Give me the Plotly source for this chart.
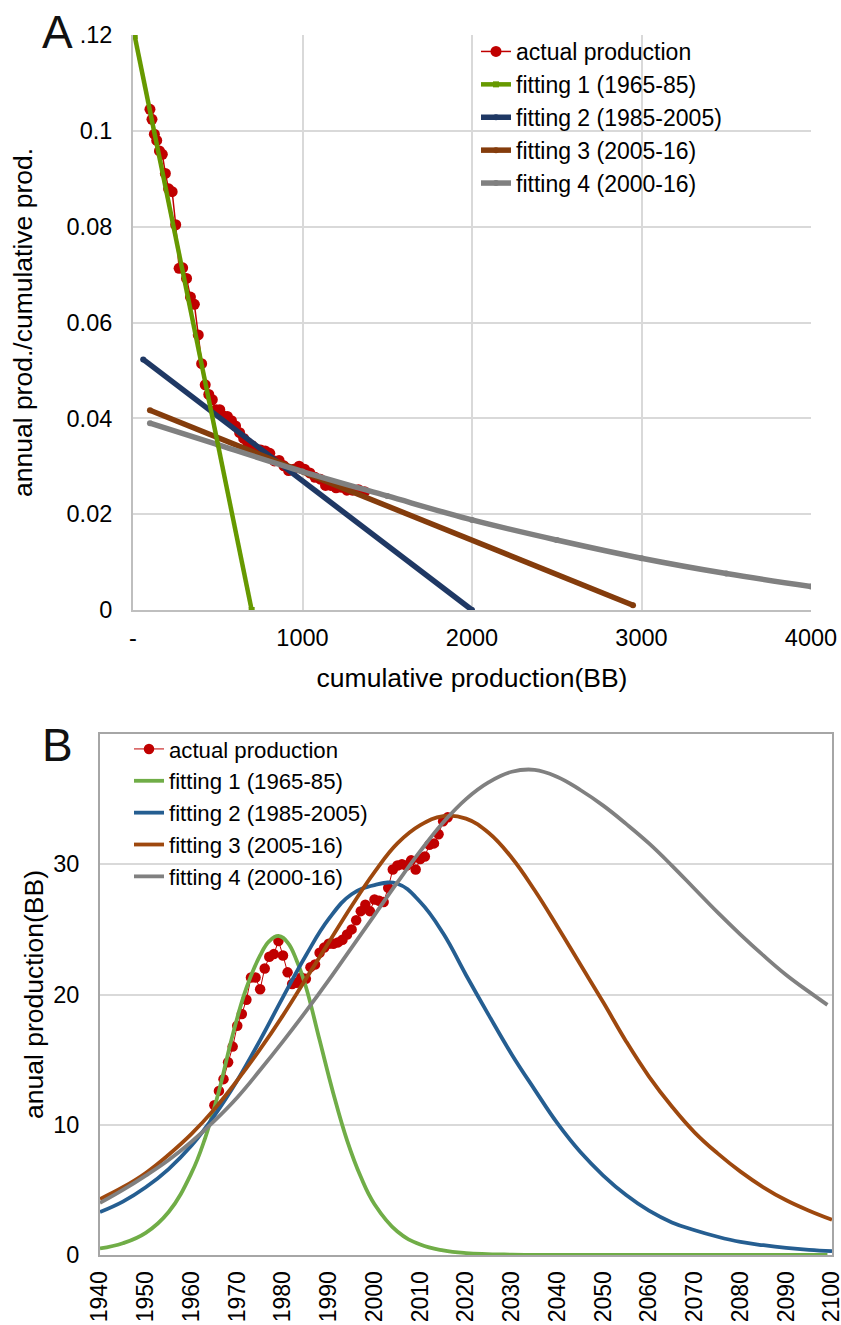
import plotly.graph_objects as go

W, H = 841, 1325
FONT = "Liberation Sans, Arial, sans-serif"

# ---------------- Panel A data (Hubbert linearization) ----------------
cum_prod = [100, 112, 126, 140, 156, 173, 191, 210, 231, 252, 272, 293, 316, 339, 362,
            385, 405, 426, 447, 468, 490, 512, 534, 557, 581, 605, 629, 653, 677, 702,
            727, 753, 780, 807, 834, 862, 890, 918, 948, 980, 1012, 1043, 1074, 1105,
            1136, 1167, 1198, 1230, 1262, 1295, 1330, 1366]
ratio = [0.1045, 0.1024, 0.0993, 0.0980, 0.0958, 0.0951, 0.0911, 0.0879, 0.0873, 0.0804,
         0.0713, 0.0714, 0.0692, 0.0653, 0.0638, 0.0574, 0.0514, 0.0470, 0.0450, 0.0439,
         0.0418, 0.0418, 0.0405, 0.0404, 0.0395, 0.0384, 0.0370, 0.0358, 0.0349, 0.0343,
         0.0336, 0.0334, 0.0332, 0.0327, 0.0311, 0.0312, 0.0301, 0.0291, 0.0294, 0.0300,
         0.0294, 0.0286, 0.0277, 0.0273, 0.0260, 0.0260, 0.0255, 0.0256, 0.0250, 0.0250,
         0.0251, 0.0247]

fitA1_x = [10, 700]
fitA1_y = [0.1198, 0.0]
fitA2_x = [60, 2000]
fitA2_y = [0.0523, 0.0]
fitA3_x = [100, 2950]
fitA3_y = [0.0417, 0.0010]
fitA4_x = [100, 500, 1000, 1500, 2000, 2500, 3000, 3500, 4000]
fitA4_y = [0.0390, 0.0345, 0.0289, 0.0238, 0.0188, 0.0146, 0.0108, 0.0076, 0.0049]

A_xticks = [0, 1000, 2000, 3000, 4000]
A_xticktext = ["-", "1000", "2000", "3000", "4000"]
A_yticks = [0, 0.02, 0.04, 0.06, 0.08, 0.1, 0.12]
A_yticktext = ["0", "0.02", "0.04", "0.06", "0.08", "0.1", ".12"]

# ---------------- Panel B data (annual production) ----------------
years = list(range(1965, 2017))
annual = [11.5, 12.6, 13.5, 14.8, 16.0, 17.6, 18.5, 19.6, 21.3, 21.3,
          20.4, 22.0, 22.9, 23.1, 24.1, 23.0, 21.7, 20.8, 20.9, 21.3,
          21.2, 22.1, 22.3, 23.2, 23.6, 23.9, 23.9, 24.0, 24.2, 24.6,
          25.0, 25.7, 26.4, 26.9, 26.4, 27.3, 27.2, 27.1, 28.2, 29.6,
          29.9, 30.0, 29.9, 30.3, 29.6, 30.4, 30.6, 31.5, 31.6, 32.3,
          33.3, 33.6]

fitB1_yr = [1940, 1945, 1950, 1955, 1960, 1963, 1966, 1969, 1972, 1975, 1977, 1979, 1981,
            1983, 1985, 1988, 1991, 1994, 1997, 2000, 2005, 2010, 2015, 2020, 2030, 2040,
            2060, 2080, 2099]
fitB1_v = [0.5, 0.9, 1.7, 3.3, 6.3, 9.0, 12.6, 16.9, 20.5, 23.0, 24.1, 24.5, 24.0,
           22.6, 20.6, 16.5, 12.4, 8.8, 6.0, 3.9, 1.8, 0.8, 0.35, 0.15, 0.03, 0.01,
           0.0, 0.0, 0.0]

fitB2_yr = [1940, 1945, 1950, 1955, 1960, 1965, 1970, 1975, 1980, 1985, 1990, 1995, 2000,
            2005, 2010, 2015, 2020, 2025, 2030, 2035, 2040, 2045, 2050, 2055, 2060,
            2065, 2070, 2075, 2080, 2085, 2090, 2095, 2100]
fitB2_v = [3.3, 4.1, 5.2, 6.6, 8.4, 10.7, 13.4, 16.5, 19.8, 23.0, 25.8, 27.7, 28.4,
           28.5, 27.1, 24.7, 21.5, 18.4, 15.4, 12.7, 10.1, 7.9, 6.1, 4.6, 3.4,
           2.5, 1.9, 1.4, 1.0, 0.75, 0.55, 0.4, 0.3]

fitB3_yr = [1940, 1945, 1950, 1955, 1960, 1965, 1970, 1975, 1980, 1985, 1990, 1995, 2000,
            2005, 2010, 2015, 2020, 2025, 2030, 2035, 2040, 2045, 2050, 2055, 2060,
            2065, 2070, 2075, 2080, 2085, 2090, 2095, 2100]
fitB3_v = [4.3, 5.2, 6.3, 7.7, 9.3, 11.2, 13.4, 15.8, 18.4, 21.2, 24.0, 26.8, 29.4,
           31.6, 33.0, 33.7, 33.5, 32.4, 30.5, 28.0, 25.2, 22.3, 19.4, 16.4, 13.7,
           11.4, 9.4, 7.8, 6.4, 5.2, 4.2, 3.4, 2.7]

fitB4_yr = [1940, 1945, 1950, 1955, 1960, 1965, 1970, 1975, 1980, 1985, 1990, 1995, 2000,
            2005, 2010, 2015, 2020, 2025, 2030, 2035, 2040, 2045, 2050, 2055, 2060,
            2065, 2070, 2075, 2080, 2085, 2090, 2095, 2099]
fitB4_v = [4.0, 5.0, 6.1, 7.3, 8.7, 10.3, 12.1, 14.2, 16.4, 18.7, 21.1, 23.6, 26.1,
           28.6, 31.0, 33.2, 35.0, 36.3, 37.1, 37.25, 36.7, 35.7, 34.5, 33.1, 31.6,
           29.9, 28.1, 26.3, 24.6, 23.0, 21.5, 20.2, 19.2]

B_yticks = [0, 10, 20, 30]

labels = ["actual production", "fitting 1 (1965-85)", "fitting 2 (1985-2005)",
          "fitting 3 (2005-16)", "fitting 4 (2000-16)"]

RED = "#C00000"
A_COLORS = ["#669900", "#1F3864", "#843C0C", "#808080"]
B_COLORS = ["#70AD47", "#255E91", "#9E480E", "#808080"]

fig = go.Figure()

# ----- Panel A traces -----
fig.add_trace(go.Scatter(x=cum_prod, y=ratio, mode="lines+markers", name=labels[0],
                         line=dict(color=RED, width=1.5),
                         marker=dict(color=RED, size=11),
                         xaxis="x", yaxis="y", legend="legend", legendrank=1))
for xs, ys, c, w, lab, rk in [(fitA2_x, fitA2_y, A_COLORS[1], 5.5, labels[2], 3),
                              (fitA3_x, fitA3_y, A_COLORS[2], 5.5, labels[3], 4),
                              (fitA4_x, fitA4_y, A_COLORS[3], 5.5, labels[4], 5),
                              (fitA1_x, fitA1_y, A_COLORS[0], 4.5, labels[1], 2)]:
    fig.add_trace(go.Scatter(x=xs, y=ys, mode="lines+markers", name=lab,
                             line=dict(color=c, width=w, shape="spline"),
                             marker=dict(color=c, size=6,
                                         symbol="square" if rk == 2 else "circle"),
                             xaxis="x", yaxis="y", legend="legend", legendrank=rk))

# ----- Panel B traces -----
fig.add_trace(go.Scatter(x=years, y=annual, mode="lines+markers", name=labels[0],
                         line=dict(color=RED, width=1),
                         marker=dict(color=RED, size=10.5),
                         xaxis="x2", yaxis="y2", legend="legend2", legendrank=1))
for i, (xs, ys) in enumerate([(fitB1_yr, fitB1_v), (fitB2_yr, fitB2_v),
                              (fitB3_yr, fitB3_v), (fitB4_yr, fitB4_v)]):
    fig.add_trace(go.Scatter(x=xs, y=ys, mode="lines", name=labels[i + 1],
                             line=dict(color=B_COLORS[i], width=3.8, shape="spline",
                                       smoothing=1.2),
                             xaxis="x2", yaxis="y2", legend="legend2", legendrank=i + 2))


def px_x(p):
    return p / W


def px_y(p):
    return 1 - p / H


tickfont = dict(family=FONT, size=23.5, color="#000000")
titlefont = dict(family=FONT, size=26.5, color="#000000")

fig.update_layout(
    width=W, height=H,
    margin=dict(l=0, r=0, t=0, b=0, autoexpand=False),
    paper_bgcolor="white", plot_bgcolor="white",
    font=dict(family=FONT, size=23.5, color="#000000"),
    showlegend=True,
    xaxis=dict(domain=[px_x(133), px_x(811)], anchor="y", range=[0, 4000],
               tickvals=A_xticks, ticktext=A_xticktext, tickfont=tickfont,
               showgrid=True, gridcolor="#D9D9D9", gridwidth=1.5,
               showline=True, linecolor="#BFBFBF", linewidth=2, zeroline=False,
               ticks="", ticklabelstandoff=6, automargin=False,
               ticklabeloverflow="allow",
               title=dict(text="cumulative production(BB)", font=titlefont, standoff=18)),
    yaxis=dict(domain=[px_y(610), px_y(35)], anchor="x", range=[0, 0.12],
               tickvals=A_yticks, ticktext=A_yticktext, tickfont=tickfont,
               showgrid=True, gridcolor="#D9D9D9", gridwidth=1.5,
               showline=True, linecolor="#BFBFBF", linewidth=2, zeroline=False,
               ticks="", ticklabelstandoff=14, automargin=False,
               title=dict(text="annual prod./cumulative prod.", font=titlefont, standoff=26)),
    xaxis2=dict(domain=[px_x(100), px_x(832)], anchor="y2", range=[1940, 2100],
                tickmode="linear", tick0=1940, dtick=10, tickangle=-90,
                tickfont=dict(family=FONT, size=23, color="#000000"),
                showgrid=False, showline=True, mirror=True, linecolor="#A6A6A6",
                linewidth=2, zeroline=False, ticks="", ticklabelstandoff=5,
                automargin=False, ticklabeloverflow="allow"),
    yaxis2=dict(domain=[px_y(1255), px_y(734)], anchor="x2", range=[0, 40],
                tickvals=B_yticks, tickfont=tickfont,
                showgrid=True, gridcolor="#D9D9D9", gridwidth=1.5,
                showline=True, mirror=True, linecolor="#A6A6A6", linewidth=2,
                zeroline=False, ticks="", ticklabelstandoff=14, automargin=False,
                title=dict(text="anual production(BB)", font=titlefont, standoff=2)),
    legend=dict(x=px_x(476), y=px_y(30), xanchor="left", yanchor="top",
                bgcolor="rgba(0,0,0,0)", font=dict(family=FONT, size=23),
                tracegroupgap=0),
    legend2=dict(x=px_x(129), y=px_y(728), xanchor="left", yanchor="top",
                 bgcolor="rgba(0,0,0,0)", font=dict(family=FONT, size=22.2),
                 tracegroupgap=0),
    annotations=[
        dict(text="A", x=px_x(57), y=px_y(32.5), xref="paper", yref="paper",
             xanchor="center", yanchor="middle", showarrow=False,
             font=dict(family=FONT, size=46, color="#111111")),
        dict(text="B", x=px_x(57), y=px_y(744.5), xref="paper", yref="paper",
             xanchor="center", yanchor="middle", showarrow=False,
             font=dict(family=FONT, size=46, color="#111111")),
    ],
)

# Remove the page's default 8px body margin and any scrollbars so the
# 841x1325 figure fills the window exactly.
PAGE_JS = ("document.documentElement.style.overflow='hidden';"
           "document.body.style.overflow='hidden';"
           "document.body.style.margin='0';")

fig.write_html("out.html", post_script=PAGE_JS, config={"displayModeBar": False})
